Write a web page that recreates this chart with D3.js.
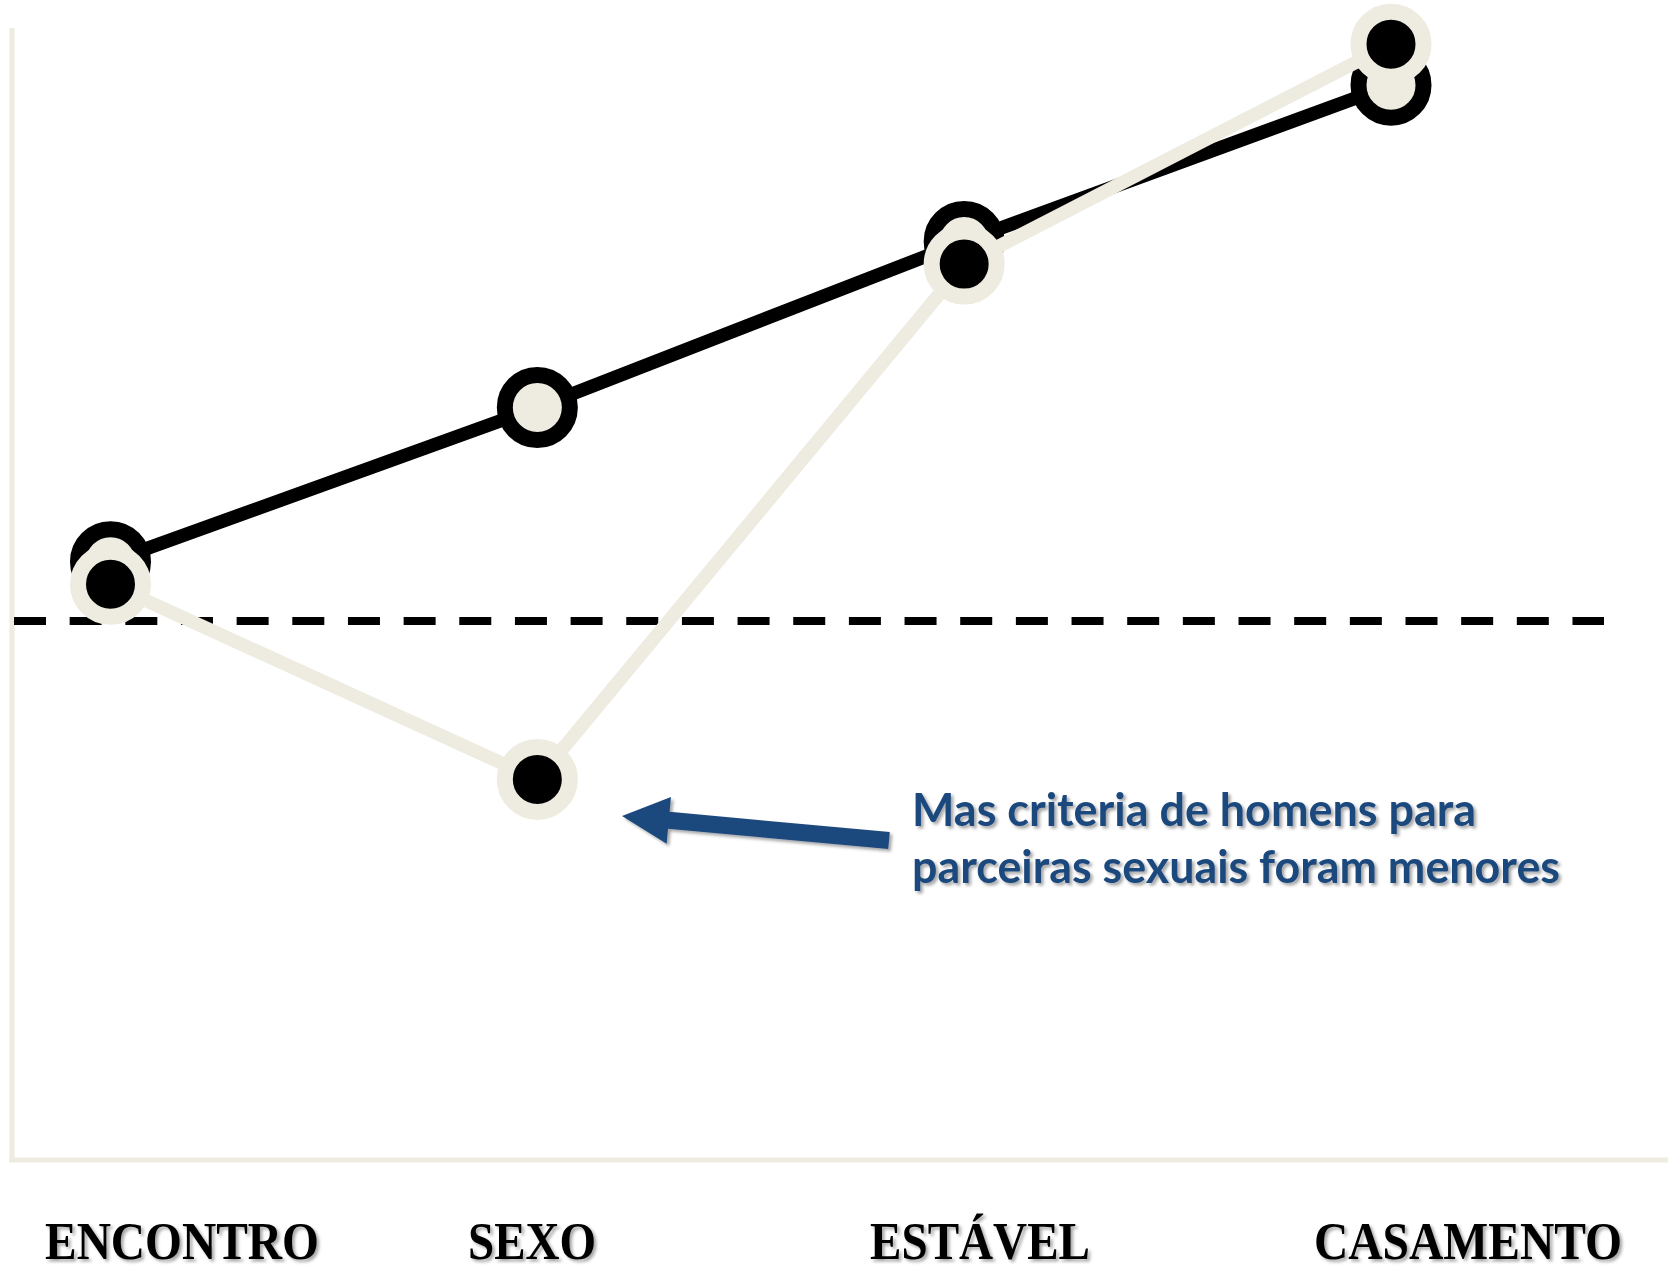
<!DOCTYPE html>
<html><head><meta charset="utf-8">
<script src="https://cdn.jsdelivr.net/npm/d3@7"></script>
<style>html,body{margin:0;padding:0;background:#fff;}svg{display:block;}</style>
</head><body>
<svg id="chart" width="1668" height="1271"></svg>
<script>
// ---- data ----
const categories = ["ENCONTRO", "SEXO", "ESTÁVEL", "CASAMENTO"];
const seriesDark = [55.5, 69.8, 85.2, 99.7];
const seriesLight = [53.4, 35.3, 83.1, 103.5];
const referenceValue = [50];
const annotationLines = ["Mas criteria de homens para", "parceiras sexuais foram menores"];

// ---- layout ----
const W = 1668, H = 1271;
const plot = {left: 12, top: 28, bottom: 1160, right: 1668};
const labelBoxes = [{x: 45, w: 274}, {x: 468, w: 128}, {x: 870, w: 220}, {x: 1314, w: 308}];
const beige = "#EEECE1", dark = "#000000", blue = "#1F497D";

const svg = d3.select("#chart");
const defs = svg.append("defs");
const sh = defs.append("filter").attr("id", "shadow").attr("x", "-10%").attr("y", "-30%").attr("width", "130%").attr("height", "170%");
sh.append("feDropShadow").attr("dx", 2.5).attr("dy", 2.5).attr("stdDeviation", 1.8)
  .attr("flood-color", "#000").attr("flood-opacity", 0.35);

const x = d3.scalePoint().domain(categories).range([110.5, 1391]);
const y = d3.scaleLinear().domain([0, 105]).range([plot.bottom, plot.top]);

// axes
svg.append("line").attr("x1", plot.left).attr("x2", plot.left)
  .attr("y1", y(105)).attr("y2", plot.bottom)
  .attr("stroke", beige).attr("stroke-width", 5);
svg.append("line").attr("x1", plot.left - 3).attr("x2", plot.right)
  .attr("y1", y(0)).attr("y2", y(0))
  .attr("stroke", beige).attr("stroke-width", 5);

// reference dashed line
svg.selectAll(".ref").data(referenceValue).enter().append("line")
  .attr("x1", 14).attr("x2", 1604)
  .attr("y1", d => y(d)).attr("y2", d => y(d))
  .attr("stroke", "#000").attr("stroke-width", 8)
  .attr("stroke-dasharray", "32,23.66");

const line = d3.line().x((d, i) => x(categories[i])).y(d => y(d));

function drawSeries(vals, lineColor, fillColor) {
  const g = svg.append("g");
  g.append("path").datum(vals).attr("d", line)
    .attr("fill", "none").attr("stroke", lineColor).attr("stroke-width", 13.5)
    .attr("stroke-linejoin", "round");
  g.selectAll("circle").data(vals).enter().append("circle")
    .attr("cx", (d, i) => x(categories[i])).attr("cy", d => y(d))
    .attr("r", 32.5).attr("fill", fillColor)
    .attr("stroke", lineColor).attr("stroke-width", 16);
}
drawSeries(seriesDark, dark, beige);
drawSeries(seriesLight, beige, dark);

// category labels
svg.selectAll(".cat").data(categories).enter().append("text")
  .attr("x", (d, i) => labelBoxes[i].x).attr("y", 1259)
  .attr("textLength", (d, i) => labelBoxes[i].w)
  .attr("lengthAdjust", "spacingAndGlyphs")
  .attr("font-family", "'Liberation Serif','Times New Roman',serif")
  .attr("font-weight", "bold").attr("font-size", 52)
  .attr("fill", "#000").attr("filter", "url(#shadow)")
  .text(d => d);

// annotation arrow
const tip = [622, 816], tail = [889, 840.5];
const dx = tip[0] - tail[0], dy = tip[1] - tail[1];
const L = Math.hypot(dx, dy);
const u = [dx / L, dy / L], n = [-u[1], u[0]];
const headLen = 47, headHalf = 23.5, shaftHalf = 8.5;
const base = [tip[0] - u[0] * headLen, tip[1] - u[1] * headLen];
const pt = (p, k) => [p[0] + n[0] * k, p[1] + n[1] * k];
const arrowPts = [tip, pt(base, headHalf), pt(base, shaftHalf), pt(tail, shaftHalf),
  pt(tail, -shaftHalf), pt(base, -shaftHalf), pt(base, -headHalf)];
svg.append("path").attr("d", d3.line()(arrowPts) + "Z")
  .attr("fill", blue).attr("filter", "url(#shadow)");

// annotation text
const annW = [564, 648];
svg.selectAll(".ann").data(annotationLines).enter().append("text")
  .attr("x", 912).attr("y", (d, i) => 826 + i * 57)
  .attr("textLength", (d, i) => annW[i])
  .attr("lengthAdjust", "spacingAndGlyphs")
  .attr("font-family", "Lato, 'Open Sans', sans-serif")
  .attr("font-weight", "bold").attr("font-size", 46)
  .attr("fill", blue).attr("filter", "url(#shadow)")
  .text(d => d);
</script>
</body></html>
